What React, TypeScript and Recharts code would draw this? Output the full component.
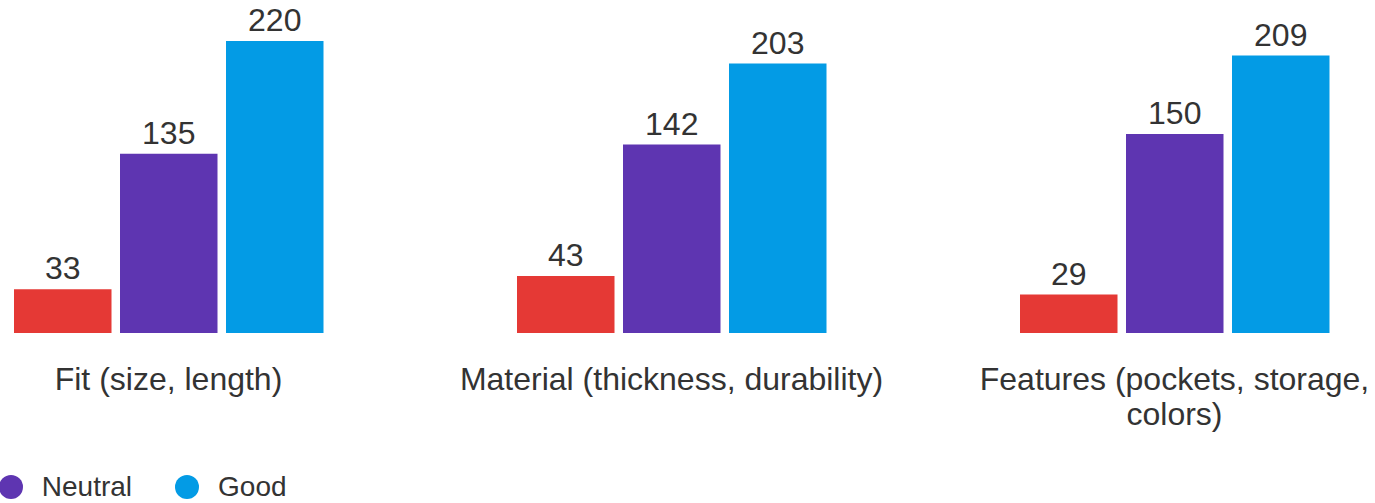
import React from 'react';
import { BarChart, Bar, XAxis, YAxis, LabelList, Legend } from 'recharts';

const categories = [
  'Fit (size, length)',
  'Material (thickness, durability)',
  'Features (pockets, storage, colors)',
];
const badValues = [33, 43, 29];
const neutralValues = [135, 142, 150];
const goodValues = [220, 203, 209];
const seriesKeys = ['Bad', 'Neutral', 'Good'];
const seriesColors = ['#E53935', '#5E35B1', '#039BE5'];
const seriesValues = [badValues, neutralValues, goodValues];

const data = categories.map((category, i) => {
  const row: Record<string, string | number> = { category };
  seriesKeys.forEach((k, s) => {
    row[k] = seriesValues[s][i];
  });
  return row;
});

const FONT = '"Liberation Sans", Arial, sans-serif';
const TEXT_COLOR = '#333333';
const TICK_FONT_SIZE = 32;
const TICK_MAX_WIDTH = 460;

let measureCtx: CanvasRenderingContext2D | null = null;
function measure(text: string): number {
  if (!measureCtx) {
    const c = document.createElement('canvas');
    measureCtx = c.getContext('2d');
  }
  if (!measureCtx) return text.length * TICK_FONT_SIZE * 0.5;
  measureCtx.font = `${TICK_FONT_SIZE}px ${FONT}`;
  return measureCtx.measureText(text).width;
}

function wrapWords(text: string, maxWidth: number): string[] {
  const words = text.split(' ');
  const lines: string[] = [];
  let cur = '';
  words.forEach((w) => {
    const next = cur ? `${cur} ${w}` : w;
    if (cur && measure(next) > maxWidth) {
      lines.push(cur);
      cur = w;
    } else {
      cur = next;
    }
  });
  if (cur) lines.push(cur);
  return lines;
}

const CategoryTick = (props: any) => {
  const { x, y, payload } = props;
  const lines = wrapWords(String(payload.value), TICK_MAX_WIDTH);
  return (
    <text
      x={x}
      y={y}
      textAnchor="middle"
      fontSize={TICK_FONT_SIZE}
      fill={TEXT_COLOR}
      fontFamily={FONT}
    >
      {lines.map((line, i) => (
        <tspan key={i} x={x} dy={i === 0 ? '0.71em' : 35}>
          {line}
        </tspan>
      ))}
    </text>
  );
};

const renderLegend = (props: any) => {
  const payload = [...(props.payload || [])].sort(
    (a: any, b: any) => seriesKeys.indexOf(a.value) - seriesKeys.indexOf(b.value)
  );
  return (
    <div style={{ display: 'flex', whiteSpace: 'nowrap', fontFamily: FONT }}>
      {payload.map((entry: any) => (
        <div
          key={entry.value}
          style={{ display: 'flex', alignItems: 'center', height: 24, marginRight: 43 }}
        >
          <span
            style={{
              display: 'inline-block',
              width: 24,
              height: 24,
              borderRadius: 12,
              background: entry.color,
              marginRight: 19,
            }}
          />
          <span style={{ fontSize: 28, lineHeight: '24px', color: TEXT_COLOR }}>{entry.value}</span>
        </div>
      ))}
    </div>
  );
};

export default function App() {
  return (
    <div
      style={{
        position: 'fixed',
        left: 0,
        top: 0,
        width: 1375,
        height: 503,
        overflow: 'hidden',
        background: '#ffffff',
        fontFamily: FONT,
      }}
    >
      <div style={{ position: 'absolute', left: -200, top: 0 }}>
        <BarChart
          width={1700}
          height={503}
          data={data}
          margin={{ top: 41, right: 74, bottom: 110, left: 117 }}
          barGap={8.5}
        >
          <XAxis
            dataKey="category"
            axisLine={false}
            tickLine={false}
            tickSize={6}
            tickMargin={28}
            height={60}
            interval={0}
            tick={(p: any) => <CategoryTick {...p} />}
          />
          <YAxis hide domain={[0, 220]} />
          <Legend
            content={renderLegend}
            layout="horizontal"
            verticalAlign="middle"
            align="center"
            wrapperStyle={{ left: 63, top: 475, width: 700 }}
          />
          {seriesKeys.map((key, s) => (
            <Bar
              key={key}
              dataKey={key}
              fill={seriesColors[s]}
              barSize={97.5}
              isAnimationActive={false}
            >
              <LabelList
                dataKey={key}
                position="top"
                offset={10}
                fontSize={32}
                fill={TEXT_COLOR}
                fontFamily={FONT}
              />
            </Bar>
          ))}
        </BarChart>
      </div>
    </div>
  );
}
